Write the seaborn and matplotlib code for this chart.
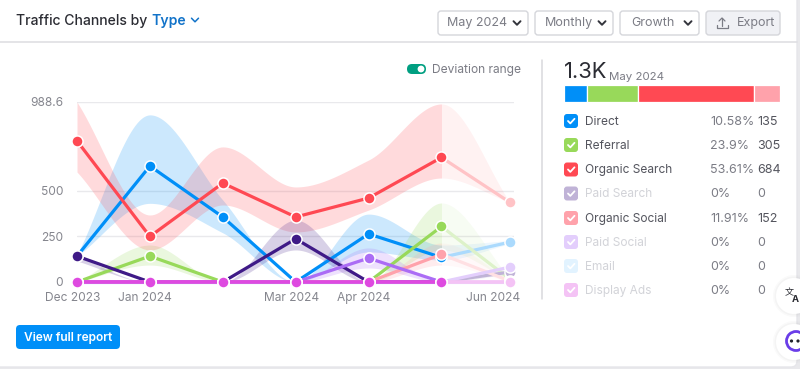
import numpy as np
import matplotlib
matplotlib.use('Agg')
import matplotlib.pyplot as plt
import seaborn as sns
from matplotlib.patches import FancyBboxPatch, Circle
from matplotlib.colors import to_rgb
from matplotlib.transforms import ScaledTranslation

# Data
months = ['Dec 2023', 'Jan 2024', '', 'Mar 2024', 'Apr 2024', '', 'Jun 2024']
channels = ['Direct', 'Referral', 'Organic Search', 'Paid Search',
            'Organic Social', 'Paid Social', 'Email', 'Display Ads']
colors = ['#008ff8', '#98d95a', '#ff4953', '#3f1a87',
          '#ffa2ab', '#ab6cf5', '#a8dbff', '#de4ae0']

direct = [142, 637, 357, 0, 264, 135, 219]
referral = [0, 142, 0, 0, 0, 305, 15]
organic_search = [775, 250, 543, 357, 461, 684, 437]
paid_search = [142, 0, 0, 237, 0, 0, 55]
organic_social = [0, 0, 0, 0, 0, 152, 5]
paid_social = [0, 0, 0, 0, 131, 0, 82]
email = [0, 0, 0, 0, 0, 0, 0]
display_ads = [0, 0, 0, 0, 0, 0, 0]
series = [direct, referral, organic_search, paid_search,
          organic_social, paid_social, email, display_ads]

# deviation ranges: (low, high)
direct_band = ([142, 432, 270, 0, 165, 121, 210], [150, 918, 450, 0, 373, 203, 228])
referral_band = ([0, 93, 0, 0, 0, 176, 10], [0, 203, 0, 0, 0, 434, 20])
search_band = ([604, 176, 423, 275, 395, 571, 437], [988, 368, 742, 522, 670, 978, 437])
paid_search_band = ([115, 0, 0, 176, 0, 0, 45], [142, 0, 0, 340, 0, 0, 65])
social_band = ([0, 0, 0, 0, 0, 93, 0], [0, 0, 0, 0, 0, 214, 10])
paid_social_band = ([0, 0, 0, 0, 77, 0, 72], [0, 0, 0, 0, 187, 0, 92])
bands = {0: direct_band, 1: referral_band, 2: search_band, 3: paid_search_band,
         4: social_band, 5: paid_social_band}

# right panel
pct_labels = ['10.58%', '23.9%', '53.61%', '0%', '11.91%', '0%', '0%', '0%']
may_values = [135, 305, 684, 0, 152, 0, 0, 0]
active = [True, True, True, False, True, False, False, False]
y_ticks = [0, 250, 500, 988.6]
y_tick_labels = ['0', '250', '500', '988.6']
buttons = ['May 2024', 'Monthly', 'Growth']

X_POS = np.array([0, 1, 2, 3, 4, 5, 5.94])
TEXT = '#54555e'
GREY = '#7b7c85'
DIM = '#d2d3d8'
FONT = 'Inter'

sns.set_theme(style='white')
plt.rcParams['font.family'] = [FONT, 'DejaVu Sans']


def lighten(c, a):
    r = np.array(to_rgb(c))
    return tuple(r * a + (1 - a))


def smooth(xs, ys, n=40):
    # monotone cubic between the monthly values, same shape as the chart's curve
    xs, ys = np.asarray(xs, float), np.asarray(ys, float)
    h = np.diff(xs)
    d = np.diff(ys) / h
    m = np.zeros(len(xs))
    for i in range(1, len(xs) - 1):
        if d[i - 1] * d[i] > 0:
            m[i] = 2 * d[i - 1] * d[i] / (d[i - 1] + d[i])
    m[0], m[-1] = d[0], d[-1]
    out_x, out_y = [], []
    for i in range(len(h)):
        t = np.linspace(0, 1, n)
        a = (2 * t**3 - 3 * t**2 + 1) * ys[i] + (t**3 - 2 * t**2 + t) * h[i] * m[i]
        b = (-2 * t**3 + 3 * t**2) * ys[i + 1] + (t**3 - t**2) * h[i] * m[i + 1]
        out_x.append(xs[i] + t * h[i])
        out_y.append(a + b)
    return np.concatenate(out_x), np.concatenate(out_y)


fig = plt.figure(figsize=(8, 3.69), dpi=100, facecolor='#e9e9ec')

# pixel overlay for the page furniture
ui = fig.add_axes([0, 0, 1, 1], zorder=0)
ui.set_xlim(0, 800)
ui.set_ylim(369, 0)
ui.axis('off')


def box(x0, y0, x1, y1, fc, ec='none', r=3, lw=1, z=1):
    p = FancyBboxPatch((x0 + r, y0 + r), x1 - x0 - 2 * r, y1 - y0 - 2 * r,
                       boxstyle=f'round,pad={r}', fc=fc, ec=ec, lw=lw, zorder=z)
    ui.add_patch(p)


def label(x, y, s, px=12.5, c=TEXT, ha='left', weight='normal', **kw):
    return ui.text(x, y, s, fontsize=px * 0.72, color=c, ha=ha, va='center',
                   fontweight=weight, **kw)


def chevron(x, y, c='#33343c', w=3.5, lw=1.4):
    ui.plot([x - w, x, x + w], [y - 1.8, y + 1.8, y - 1.8], color=c, lw=lw, zorder=3)


# card and header
box(-6, -6, 797, 367, 'white', ec='#e6e6ea', r=6)
ui.plot([0, 797], [41.5, 41.5], color='#dfdfe3', lw=1.2, zorder=2)
t = label(16, 20.5, 'Traffic Channels by', px=14, c='#2b2c33', weight='medium')
label(151, 20.5, 'Type', px=14, c='#1273c9', weight='semibold')
chevron(195, 20, c='#1273c9', lw=1.1)

for (x0, x1), s, tx in zip([(438, 528), (535, 613), (620, 699)], buttons, [447, 544.5, 631]):
    box(x0, 11, x1, 35, 'white', ec='#d5d6db')
    label(tx, 23, s, px=12.5, c=GREY)
    chevron(x1 - 11, 23)
box(706, 11, 780, 35, '#f0f1f5', ec='#d5d6db')
ui.plot([722, 722], [18, 26], color=GREY, lw=0.9, zorder=3)
ui.plot([719, 722, 725], [21, 18, 21], color=GREY, lw=0.9, zorder=3)
ui.plot([716.5, 716.5, 727.5, 727.5], [25, 28, 28, 25], color=GREY, lw=0.9, zorder=3)
label(737, 23, 'Export', px=12.5, c=GREY)

# toggle
box(407, 64, 426, 74, '#009f81', r=5)
ui.add_patch(Circle((421, 69), 3.4, fc='white', ec='none', zorder=3))
label(432, 69.7, 'Deviation range', px=12, c=GREY)

# view report button
box(16, 325, 120, 349, '#008ff8', r=4)
label(68, 337.5, 'View full report', px=12, c='white', ha='center', weight='semibold')

# panel
ui.plot([542, 542], [60, 299], color='#d8d9dd', lw=1.1, zorder=2)
label(563.5, 72, '1.3K', px=22, c='#2b2c33')
label(609, 76.5, 'May 2024', px=11.5, c=GREY)

stack = fig.add_axes([564 / 800, 1 - 102 / 369, 216 / 800, 17 / 369], zorder=1)
left = 0
for v, c, on in zip(may_values, colors, active):
    if v:
        stack.barh([0], [v], left=left, height=1, color=lighten(c, 1), edgecolor='white', linewidth=0.9)
        left += v
stack.set_xlim(0, left)
stack.set_ylim(-0.5, 0.5)
stack.axis('off')

row_y = [121, 145, 169.5, 193.5, 218, 242, 266, 290]
for y, name, c, p, v, on in zip(row_y, channels, colors, pct_labels, may_values, active):
    fc = c if on else lighten(c, 0.33)
    box(564, y - 7, 578, y + 7, fc, r=3)
    ui.plot([568, 570.3, 574.5], [y, y + 2.4, y - 2.2], color='white', lw=1.3, zorder=3)
    label(585, y + 0.7, name, px=11.9, c=TEXT if on else DIM)
    label(710, y + 0.7, p, px=12.5, c=GREY)
    label(757.5, y + 0.7, str(v), px=12.5, c=TEXT if v else GREY)

# floating buttons
for cy in [296, 342]:
    for r, a in [(21, 0.04), (19.5, 0.05)]:
        ui.add_patch(Circle((794, cy), r, fc='#888888', alpha=a, ec='none', zorder=4))
    ui.add_patch(Circle((794, cy), 18, fc='white', ec='none', zorder=4))
ui.text(789, 292.5, '文', fontsize=6.5, color='#2b2c33', ha='center', va='center', zorder=5,
        family=['Noto Sans CJK SC', 'DejaVu Sans'])
ui.text(795, 300, 'A', fontsize=6.8, color='#2b2c33', ha='center', va='center', zorder=5,
        fontweight='bold')
ui.add_patch(Circle((796, 341), 9.5, fc='white', ec='#6a3de8', lw=2, zorder=5))
ui.add_patch(Circle((791.5, 341), 1.6, fc='#20212a', ec='none', zorder=6))
ui.add_patch(Circle((798, 341), 1.6, fc='#20212a', ec='none', zorder=6))

# main chart
ax = fig.add_axes([77 / 800, 1 - 282 / 369, 437.4 / 800, 180 / 369], zorder=2)
ax.patch.set_alpha(0)
FC = 5.0

for i, (low, high) in bands.items():
    xs, lo = smooth(X_POS, low)
    _, hi = smooth(X_POS, high)
    past = xs <= FC
    future = xs >= FC
    ax.fill_between(xs[past], lo[past], hi[past], color=colors[i], alpha=0.2, lw=0)
    ax.fill_between(xs[future], lo[future], hi[future], color=colors[i], alpha=0.07, lw=0)

for vals, c in zip(series, colors):
    vals = np.asarray(vals, float)
    soft = lighten(c, 0.33)
    lw = 2.7 if c == colors[-1] else 2.3
    sns.lineplot(x=X_POS[:6], y=vals[:6], color=c, linewidth=lw, ax=ax, legend=False,
                 errorbar=None, clip_on=False, solid_capstyle='round', zorder=4)
    sns.lineplot(x=X_POS[5:], y=vals[5:], color=soft, linewidth=lw, ax=ax, legend=False,
                 errorbar=None, clip_on=False, zorder=3)
    ax.plot(X_POS[:6], vals[:6], ls='none', marker='o', ms=8, mfc=c, mec='white', mew=1.1,
            clip_on=False, zorder=5)
    ax.plot(X_POS[6:], vals[6:], ls='none', marker='o', ms=8, mfc=soft, mec='white', mew=1.1,
            clip_on=False, zorder=5)

ax.set_xlim(0, 6)
ax.set_ylim(0, 988.6)
ax.set_yticks(y_ticks)
ax.set_yticklabels(y_tick_labels)
ax.set_xticks(X_POS)
ax.set_xticklabels(months)
ax.set_xlabel('')
ax.set_ylabel('')
ax.tick_params(axis='y', length=0, pad=10, labelsize=8.6, labelcolor='#85868e')
ax.tick_params(axis='x', length=0, pad=7.5, labelsize=8.6, labelcolor='#85868e')
ax.grid(axis='y', color='#e9e9ec', lw=1)
ax.set_axisbelow(True)
sns.despine(ax=ax, left=True, bottom=True)

# tick labels sit a little left of their points, last one right-aligned to the plot edge
for tl, dx in zip(ax.get_xticklabels(), [-4.5, -4.5, 0, -4.5, -4.5, 0, -16.5]):
    tl.set_transform(tl.get_transform() + ScaledTranslation(dx / 100, 0, fig.dpi_scale_trans))

fig.savefig('out.png', dpi=100)
